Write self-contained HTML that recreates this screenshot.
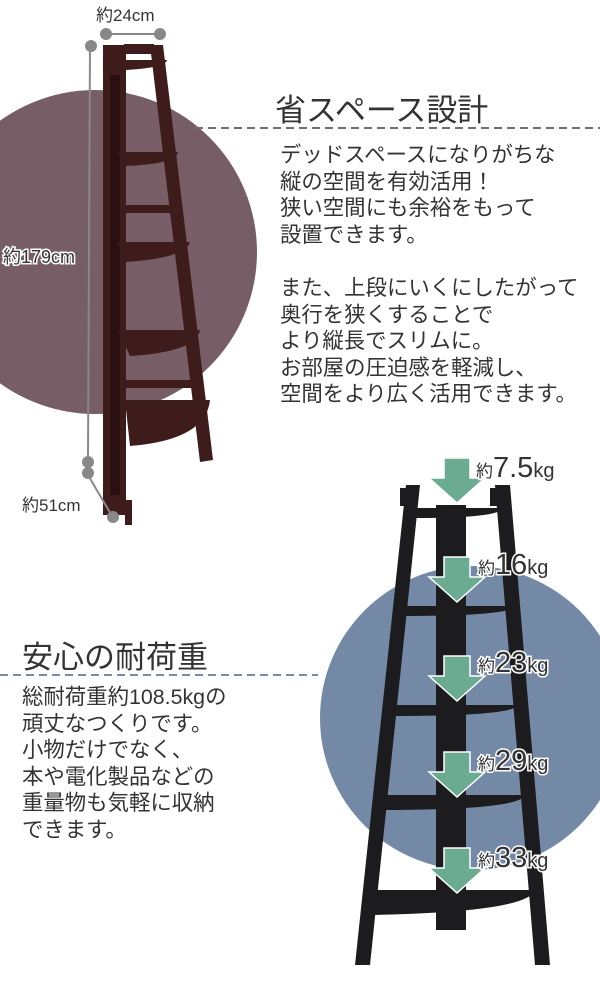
<!DOCTYPE html>
<html><head><meta charset="utf-8"><style>
body{margin:0;width:600px;height:990px;overflow:hidden;background:#fff;font-family:"Liberation Sans","Noto Sans CJK JP",sans-serif;color:#333}
svg{position:absolute;left:0;top:0}
.t{position:absolute;font-size:21.4px;line-height:26.6px;white-space:nowrap;color:#333}
.h{position:absolute;font-size:31px;white-space:nowrap;color:#333}
</style></head><body>
<svg width="600" height="990" viewBox="0 0 600 990">
<circle cx="95" cy="252" r="162" fill="#765d66"/>
<circle cx="472" cy="718" r="152" fill="#7489a6"/>
<line x1="195" y1="128" x2="600" y2="128" stroke="#7a6a70" stroke-width="2" stroke-dasharray="8,5"/>
<line x1="0" y1="675" x2="318" y2="675" stroke="#7a8aa0" stroke-width="2" stroke-dasharray="8,5"/>
<g fill="#3e1c1c">
<polygon points="103,45 126,45 126,515 103,515"/>
<rect x="110" y="75" width="10" height="420" fill="#2a1010"/>
<polygon points="125,500 132,500 132,525 125,525"/>
<polygon points="150,45 163,45 213,460 200,462"/>
<rect x="124" y="44" width="30" height="10"/>
<path d="M125,60 H167 Q165,68 125,70Z"/>
<path d="M118,152 H178 Q176,164 125,166Z"/>
<path d="M118,242 H190 Q186,258 125,262Z"/>
<path d="M118,330 H200 Q196,352 130,356Z"/>
<path d="M125,400 H210 Q206,440 130,446Z"/>
<rect x="122" y="205" width="60" height="8"/>
<rect x="122" y="380" width="80" height="8"/>
</g>
<g stroke="#888" stroke-width="2" fill="#888">
<line x1="110" y1="34" x2="160" y2="34"/><circle cx="106" cy="34" r="5"/><circle cx="160" cy="34" r="5"/>
<line x1="90" y1="46" x2="88" y2="458"/><circle cx="91" cy="46" r="5"/><circle cx="88" cy="462" r="5"/>
<line x1="88" y1="475" x2="112" y2="516"/><circle cx="88" cy="473" r="5"/><circle cx="113" cy="517" r="5"/>
</g>
<g fill="#1c1c1e">
<polygon points="406,485 420,485 370,965 355,965"/>
<polygon points="495,485 510,485 550,965 535,965"/>
<rect x="436" y="505" width="30" height="425"/>
<path d="M410,508 H503 Q500,518 415,518Z"/>
<path d="M395,606 H515 Q512,616 400,616Z"/>
<path d="M388,705 H518 Q514,716 392,716Z"/>
<path d="M378,795 H525 Q520,810 382,810Z"/>
<path d="M368,890 H535 Q528,912 372,915Z"/>
<rect x="400" y="488" width="12" height="18"/><rect x="490" y="488" width="12" height="18"/>
</g>
<g fill="#6aab92" stroke="#fff" stroke-width="1.5">
<polygon points="444,458 470,458 470,478 485,478 457,503 429,478 444,478"/>
<polygon points="444,557 470,557 470,577 485,577 457,602 429,577 444,577"/>
<polygon points="444,656 470,656 470,676 485,676 457,701 429,676 444,676"/>
<polygon points="444,752 470,752 470,772 485,772 457,797 429,772 444,772"/>
<polygon points="444,848 470,848 470,868 485,868 457,893 429,868 444,868"/>
</g>
<g font-family="Liberation Sans,Noto Sans CJK JP,sans-serif" fill="#333" stroke="#fff" stroke-width="3" paint-order="stroke">
<text x="476" y="477"><tspan font-size="17">約</tspan><tspan font-size="29">7.5</tspan><tspan font-size="20">kg</tspan></text>
<text x="478" y="574"><tspan font-size="17">約</tspan><tspan font-size="29">16</tspan><tspan font-size="20">kg</tspan></text>
<text x="478" y="672"><tspan font-size="17">約</tspan><tspan font-size="29">23</tspan><tspan font-size="20">kg</tspan></text>
<text x="478" y="770"><tspan font-size="17">約</tspan><tspan font-size="29">29</tspan><tspan font-size="20">kg</tspan></text>
<text x="478" y="867"><tspan font-size="17">約</tspan><tspan font-size="29">33</tspan><tspan font-size="20">kg</tspan></text>
<text x="96" y="21" font-size="17">約24cm</text>
<text x="3" y="263" font-size="18">約179cm</text>
<text x="22" y="511" font-size="17">約51cm</text>
</g>
</svg>
<div class="h" style="left:275px;top:85px">省スペース設計</div>
<div class="t" style="left:280px;top:142px">デッドスペースになりがちな<br>縦の空間を有効活用！<br>狭い空間にも余裕をもって<br>設置できます。<br><br>また、上段にいくにしたがって<br>奥行を狭くすることで<br>より縦長でスリムに。<br>お部屋の圧迫感を軽減し、<br>空間をより広く活用できます。</div>
<div class="h" style="left:22px;top:632px">安心の耐荷重</div>
<div class="t" style="left:22px;top:684px">総耐荷重約108.5kgの<br>頑丈なつくりです。<br>小物だけでなく、<br>本や電化製品などの<br>重量物も気軽に収納<br>できます。</div>
</body></html>
